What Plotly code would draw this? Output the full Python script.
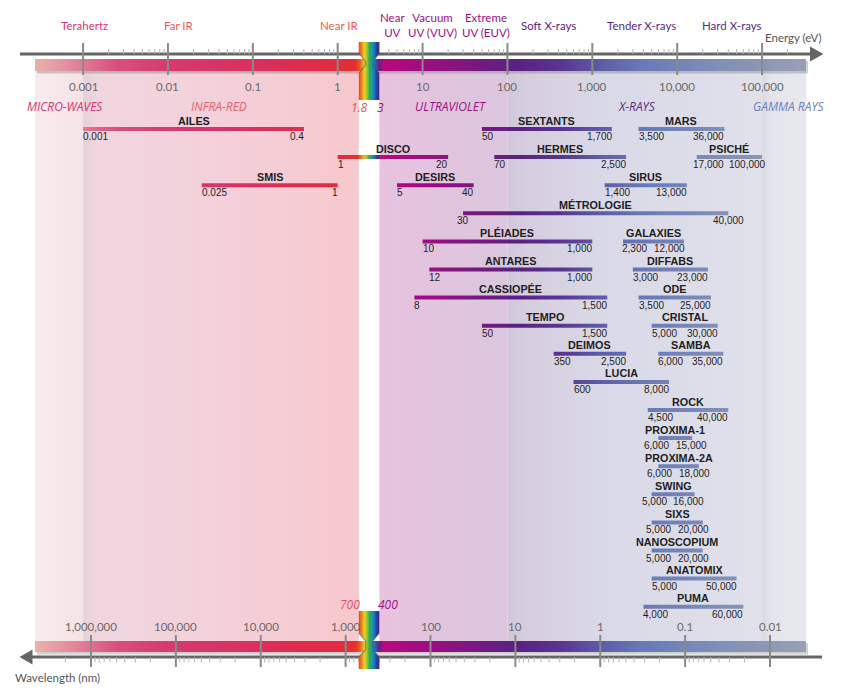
import math
import numpy as np
import plotly.graph_objects as go

# ------------------------------------------------------------------ data
HC = 1239.84  # eV * nm

beamline_names = ["AILES", "SEXTANTS", "MARS",
                  "DISCO", "HERMES", "PSICHÉ",
                  "SMIS", "DESIRS", "SIRUS",
                  "MÉTROLOGIE",
                  "PLÉIADES", "GALAXIES",
                  "ANTARES", "DIFFABS",
                  "CASSIOPÉE", "ODE",
                  "TEMPO", "CRISTAL",
                  "DEIMOS", "SAMBA",
                  "LUCIA", "ROCK", "PROXIMA-1", "PROXIMA-2A", "SWING",
                  "SIXS", "NANOSCOPIUM", "ANATOMIX", "PUMA"]
energy_min = [0.001, 50, 3500,
              1, 70, 17000,
              0.025, 5, 1400,
              30,
              10, 2300,
              12, 3000,
              8, 3500,
              50, 5000,
              350, 6000,
              600, 4500, 6000, 6000, 5000,
              5000, 5000, 5000, 4000]
energy_max = [0.4, 1700, 36000,
              20, 2500, 100000,
              1, 40, 13000,
              40000,
              1000, 12000,
              1000, 23000,
              1500, 25000,
              1500, 30000,
              2500, 35000,
              8000, 40000, 15000, 18000, 16000,
              20000, 20000, 50000, 60000]
chart_row = [0, 0, 0,
             1, 1, 1,
             2, 2, 2,
             3,
             4, 4,
             5, 5,
             6, 6,
             7, 7,
             8, 8,
             9, 10, 11, 12, 13,
             14, 15, 16, 17]

energy_ticks = [0.001, 0.01, 0.1, 1, 10, 100, 1000, 10000, 100000]
energy_tick_labels = ["0.001", "0.01", "0.1", "1", "10", "100", "1,000", "10,000", "100,000"]
wavelength_ticks = [1e6, 1e5, 1e4, 1e3, 100, 10, 1, 0.1, 0.01]
wavelength_tick_labels = ["1,000,000", "100,000", "10,000", "1,000", "100", "10", "1", "0.1", "0.01"]

spectral_ranges = ["Terahertz", "Far IR", "Near IR", "Near<br>UV", "Vacuum<br>UV (VUV)",
                   "Extreme<br>UV (EUV)", "Soft X-rays", "Tender X-rays", "Hard X-rays"]
domain_names = ["MICRO-WAVES", "INFRA-RED", "ULTRAVIOLET", "X-RAYS", "GAMMA RAYS"]
visible_ev = [1.8, 3]
visible_nm = [700, 400]

# ------------------------------------------------------------------ layout helpers
W, H = 841, 695
PX_ONE, PX_DEC = 337.7, 84.875      # pixel of 1 eV, pixels per decade
ROW_PX0, ROW_STEP = 129.0, 28.1


def lg(px):
    return (px - PX_ONE) / PX_DEC


def ev(px):
    return 10 ** lg(px)


def ry(py):
    return (py - ROW_PX0) / ROW_STEP


def hex2rgb(h):
    h = h.lstrip('#')
    return [int(h[i:i + 2], 16) for i in (0, 2, 4)]


# spectrum colour stops along log10(E)
SPEC = [(-3.57, '#eab3a9'), (-3.30, '#e69aa4'), (-3.0, '#e07c95'), (-2.6, '#da4e7e'),
        (-2.0, '#d83a70'), (-1.0, '#db3060'), (-0.45, '#e02c4e'), (0.0, '#e42a40'),
        (0.235, '#e6302e'),
        (0.25, '#e8452a'), (0.285, '#f08a20'), (0.315, '#f2d21c'), (0.345, '#9ec832'),
        (0.375, '#2fa852'), (0.405, '#12a0a6'), (0.435, '#1c70be'), (0.46, '#2840a0'),
        (0.485, '#3a2a88'),
        (0.50, '#c0087f'), (0.97, '#a20c80'), (1.44, '#861580'), (1.80, '#6c1c80'),
        (2.15, '#5a2284'), (2.62, '#5a3492'), (3.09, '#5e5ca8'), (3.56, '#6878b8'),
        (4.03, '#7484ba'), (4.50, '#8090b8'), (4.98, '#8c96b4'), (5.55, '#9aa0b8')]
SPEC_L = np.array([s[0] for s in SPEC])
SPEC_C = np.array([hex2rgb(s[1]) for s in SPEC], dtype=float)


def spectrum(l):
    r, g, b = (np.interp(l, SPEC_L, SPEC_C[:, k]) for k in range(3))
    return f'rgb({int(r)},{int(g)},{int(b)})'


def spectrum_scale(e0, e1, n=60):
    l0, l1 = math.log10(e0), math.log10(e1)
    return [[i / (n - 1), spectrum(l0 + (l1 - l0) * i / (n - 1))] for i in range(n)]


def grad_rect(e0, e1, y0, y1, scale):
    return go.Scatter(x=[e0, e1, e1, e0, e0], y=[y0, y0, y1, y1, y0],
                      mode='lines', line=dict(width=0), fill='toself',
                      fillgradient=dict(type='horizontal', colorscale=scale, start=e0, stop=e1),
                      hoverinfo='skip', showlegend=False)


def solid_poly(xs, ys, color):
    return go.Scatter(x=xs, y=ys, mode='lines', line=dict(width=0), fill='toself',
                      fillcolor=color, hoverinfo='skip', showlegend=False)


fig = go.Figure()

# ------------------------------------------------------------------ background bands
e_left, e_right = ev(35), ev(806)
vis_lo, vis_hi = HC / visible_nm[0], HC / visible_nm[1]
band_top, band_bot = ry(62), ry(648)
bands = [
    (e_left, 0.001, [[0, '#f8ecee'], [1, '#f5e3e7']]),
    (0.001, vis_lo, [[0, '#e4d2d7'], [0.05, '#f0d6df'], [0.5, '#f4d0da'], [1, '#f7c8cd']]),
    (vis_hi, 100, [[0, '#e7c2df'], [1, '#dcc6de']]),
    (100, 1e5, [[0, '#d2c8db'], [0.08, '#d6cdde'], [0.35, '#d9d8e7'], [1, '#e0e1eb']]),
    (1e5, e_right, [[0, '#d8d8e1'], [0.18, '#e4e4ec'], [1, '#e8e8ef']]),
]
for e0, e1, sc in bands:
    fig.add_trace(grad_rect(e0, e1, band_top, band_bot, sc))

# ------------------------------------------------------------------ colour bars (top & bottom)
for (py0, py1) in [(59, 71), (641, 652)]:
    fig.add_trace(solid_poly([ev(37), ev(808), ev(808), ev(37), ev(37)],
                             [ry(py0 + 2), ry(py0 + 2), ry(py1 + 2.5), ry(py1 + 2.5), ry(py0 + 2)],
                             'rgba(90,90,90,0.28)'))
    fig.add_trace(grad_rect(e_left, e_right, ry(py0), ry(py1), spectrum_scale(e_left, e_right, 160)))

# ------------------------------------------------------------------ axis lines + arrows
AX = '#666666'
fig.add_trace(go.Scatter(x=[ev(20), ev(812)], y=[ry(54), ry(54)], mode='lines',
                         line=dict(color=AX, width=3), hoverinfo='skip', showlegend=False))
fig.add_trace(solid_poly([ev(810), ev(823.5), ev(810), ev(810)],
                         [ry(46.5), ry(54), ry(61.5), ry(46.5)], AX))
fig.add_trace(go.Scatter(x=[ev(30), ev(822)], y=[ry(657), ry(657)], mode='lines',
                         line=dict(color=AX, width=3), hoverinfo='skip', showlegend=False))
fig.add_trace(solid_poly([ev(32.5), ev(19.5), ev(32.5), ev(32.5)],
                         [ry(649.5), ry(657), ry(664.5), ry(649.5)], AX))

# minor ticks
top_minor = [m * 10 ** k for k in range(-3, 5) for m in range(2, 10)] + [2e5]
bot_minor = [m * 10 ** k for k in range(-2, 6) for m in range(2, 10)] + [2e6]
mx, my = [], []
for e in top_minor:
    mx += [e, e, None]
    my += [ry(49), ry(54), None]
for w in bot_minor:
    mx += [HC / w, HC / w, None]
    my += [ry(657), ry(662.5), None]
fig.add_trace(go.Scatter(x=mx, y=my, mode='lines', line=dict(color='#b4b4b4', width=1),
                         hoverinfo='skip', showlegend=False))
# major ticks
tx, ty = [], []
for e in energy_ticks:
    tx += [e, e, None]
    ty += [ry(43), ry(75), None]
for w in wavelength_ticks:
    tx += [HC / w, HC / w, None]
    ty += [ry(635), ry(667), None]
fig.add_trace(go.Scatter(x=tx, y=ty, mode='lines', line=dict(color='#8a8a8a', width=2),
                         hoverinfo='skip', showlegend=False))

# ------------------------------------------------------------------ visible rainbow "hourglass"
rainbow_scale = spectrum_scale(vis_lo, vis_hi, 40)
xl, xr = vis_lo, vis_hi
nl, nr = ev(365.7), ev(372.7)
for (a, b, c, d, e_, f) in [(42, 53, 62, 65, 73, 100), (611, 633, 641, 650, 657, 669)]:
    xs = [xl, xr, xr, nr, nr, xr, xr, xl, xl, nl, nl, xl, xl]
    ys = [ry(a), ry(a), ry(b), ry(c), ry(d), ry(e_), ry(f), ry(f), ry(e_), ry(d), ry(c), ry(b), ry(a)]
    fig.add_trace(go.Scatter(x=xs, y=ys, mode='lines', line=dict(width=0), fill='toself',
                             fillgradient=dict(type='horizontal', colorscale=rainbow_scale,
                                               start=xl, stop=xr),
                             hoverinfo='skip', showlegend=False))
    for side in [(xl, nl), (xr, nr)]:
        fig.add_trace(go.Scatter(x=[side[0], side[1], side[1], side[0]],
                                 y=[ry(b), ry(c), ry(d), ry(e_)], mode='lines',
                                 line=dict(color='rgba(90,90,90,0.55)', width=1.2),
                                 hoverinfo='skip', showlegend=False))

# ------------------------------------------------------------------ beamline bars
HALF = 2.0 / ROW_STEP
for name, e0, e1, r in zip(beamline_names, energy_min, energy_max, chart_row):
    fig.add_trace(grad_rect(e0, e1, r - HALF, r + HALF, spectrum_scale(e0, e1, 40)))

# ------------------------------------------------------------------ annotations
UI = "Lato"
VAL_FONT = dict(family='Liberation Sans', size=10, color='#1e1e1e')
ann = []


def fmt(v):
    return f"{int(v):,}" if v >= 1 else f"{v:g}"


def text_w(s, size=10):
    # approximate Arial width
    return sum(0.556 if ch.isdigit() else 0.278 for ch in s) * size


for name, e0, e1, r in zip(beamline_names, energy_min, energy_max, chart_row):
    l0, l1 = math.log10(e0), math.log10(e1)
    lc = (l0 + l1) / 2
    bar_px = (l1 - l0) * PX_DEC
    ann.append(dict(x=lc, y=r, xref='x', yref='y', text=name, showarrow=False,
                    yshift=8.5, xanchor='center', yanchor='middle',
                    font=dict(family='Liberation Sans', size=10.8, color='#1e1e1e', weight='bold')))
    s0, s1 = fmt(e0), fmt(e1)
    if name == "MÉTROLOGIE":
        specs = [(l0, 'center', 0), (l1, 'center', 0)]
    else:
        need = text_w(s0) + text_w(s1) + 7
        over = max(0.0, (need - bar_px) / 2)
        specs = [(l0, 'left', -1 - over), (l1, 'right', 1 + over)]
    for (xv, anchor, shift), s in zip(specs, (s0, s1)):
        ann.append(dict(x=xv, y=r, xref='x', yref='y', text=s, showarrow=False,
                        yshift=-7.5, xshift=shift, xanchor=anchor, yanchor='middle',
                        borderpad=0, font=VAL_FONT))

for e, t in zip(energy_ticks, energy_tick_labels):
    ann.append(dict(x=math.log10(e), y=ry(86), xref='x', yref='y', text=t, showarrow=False,
                    xanchor='center', yanchor='middle',
                    font=dict(family=UI, size=11.5, color='#6a6a6a')))
for w, t in zip(wavelength_ticks, wavelength_tick_labels):
    ann.append(dict(x=math.log10(HC / w), y=ry(626), xref='x', yref='y', text=t, showarrow=False,
                    xanchor='center', yanchor='middle',
                    font=dict(family=UI, size=11.5, color='#6a6a6a')))

# spectral range names above the axis
sr_px = [84, 179, 339, 392, 432, 486, 548, 641, 732]
sr_col = ['#e0356c', '#ea5560', '#ec5a52', '#b0087e', '#a3107f', '#98127f',
          '#5b2282', '#58287f', '#5a2a88']
for t, px, c in zip(spectral_ranges, sr_px, sr_col):
    ann.append(dict(x=px / W, y=1 - 25 / H, xref='paper', yref='paper', text=t, showarrow=False,
                    xanchor='center', yanchor='middle',
                    font=dict(family=UI, size=11.5, color=c)))

# domain names (italic)
dn_px = [65, 219, 451, 637, 788]
dn_col = ['#e0306c', '#e9606c', '#a0107f', '#5a2a88', '#7080c0']
for t, px, c in zip(domain_names, dn_px, dn_col):
    ann.append(dict(x=px / W, y=1 - 107 / H, xref='paper', yref='paper', text=t, showarrow=False,
                    xanchor='center', yanchor='middle',
                    font=dict(family='Open Sans', size=12, color=c, style='italic')))

# visible limits
ann.append(dict(x=math.log10(visible_ev[0]), y=ry(107), xref='x', yref='y', text='1.8',
                showarrow=False, xanchor='center', yanchor='middle',
                font=dict(family='Open Sans', size=12, color='#e8505a', style='italic')))
ann.append(dict(x=math.log10(visible_ev[1]), y=ry(107), xref='x', yref='y', text='3',
                showarrow=False, xanchor='center', yanchor='middle', xshift=2,
                font=dict(family='Open Sans', size=12, color='#a0107f', style='italic')))
ann.append(dict(x=math.log10(HC / visible_nm[0]), y=ry(604), xref='x', yref='y', text='700',
                showarrow=False, xanchor='right', yanchor='middle', xshift=3,
                font=dict(family='Open Sans', size=12, color='#e8505a', style='italic')))
ann.append(dict(x=math.log10(HC / visible_nm[1]), y=ry(604), xref='x', yref='y', text='400',
                showarrow=False, xanchor='left', yanchor='middle', xshift=-3,
                font=dict(family='Open Sans', size=12, color='#a0107f', style='italic')))

ann.append(dict(x=823 / W, y=1 - 37 / H, xref='paper', yref='paper', text='Energy (eV)',
                showarrow=False, xanchor='right', yanchor='middle',
                font=dict(family=UI, size=11.5, color='#555555')))
ann.append(dict(x=13 / W, y=1 - 677 / H, xref='paper', yref='paper', text='Wavelength (nm)',
                showarrow=False, xanchor='left', yanchor='middle',
                font=dict(family=UI, size=11.5, color='#555555')))

fig.update_layout(
    width=W, height=H, autosize=False,
    margin=dict(l=0, r=0, t=0, b=0, pad=0),
    paper_bgcolor='white', plot_bgcolor='white',
    showlegend=False, annotations=ann,
    xaxis=dict(type='log', range=[lg(0), lg(W)], visible=False, fixedrange=True),
    yaxis=dict(range=[ry(H), ry(0)], visible=False, fixedrange=True),
    hovermode=False,
)

fig.write_html("out.html")
